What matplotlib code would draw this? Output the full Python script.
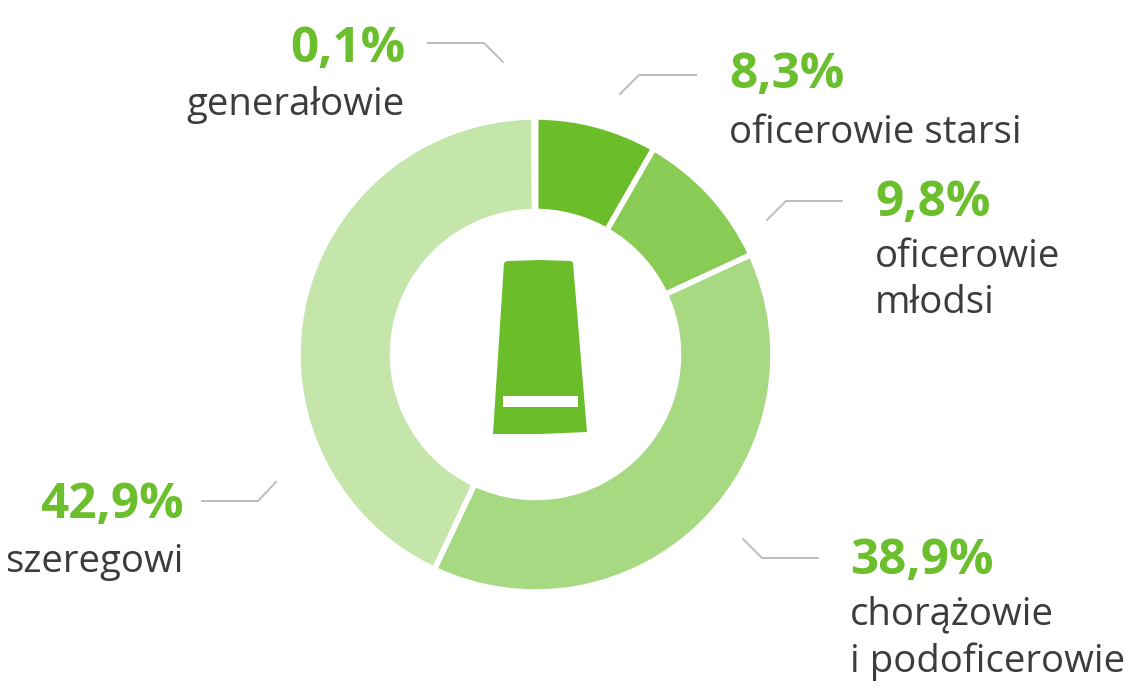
import matplotlib
matplotlib.use('Agg')
import matplotlib.pyplot as plt
from matplotlib.patches import Polygon, Rectangle

# kolejnosc od godziny 12 zgodnie z ruchem wskazowek
kategorie = ['oficerowie starsi', 'oficerowie\nmłodsi', 'chorążowie\ni podoficerowie', 'szeregowi', 'generałowie']
wartosci = [8.3, 9.8, 38.9, 42.9, 0.1]
procenty = ['8,3%', '9,8%', '38,9%', '42,9%', '0,1%']
kolory = ['#6bbd29', '#89cb55', '#a7d882', '#c5e6aa', '#6bbd29']

# pozycje opisow w pikselach: x, y procentu, y nazwy, wyrownanie
pozycje = [(729, 76, 133, 'left'), (875, 204, 280, 'left'), (850, 561, 638, 'left'),
           (184, 506, 562, 'right'), (405, 50, 105, 'right')]
linie = [[(620, 94), (639, 75), (696, 75)],
         [(767, 220), (786, 201), (842, 201)],
         [(743, 539), (762, 558), (818, 558)],
         [(202, 501), (258, 501), (276, 482)],
         [(428, 43), (484, 43), (503, 62)]]

W, H = 1127, 690
plt.rcParams['font.family'] = ['Open Sans', 'DejaVu Sans']
fig = plt.figure(figsize=(W / 100, H / 100), dpi=100)
ax = fig.add_axes([0, 0, 1, 1])

ax.pie(wartosci, colors=kolory, startangle=90, counterclock=False,
       center=(535.5, H - 354.5), radius=237.5, frame=True,
       wedgeprops=dict(width=94.5, edgecolor='white', linewidth=4))
ax.set_xlim(0, W)
ax.set_ylim(0, H)
ax.set_aspect('auto')
ax.axis('off')

for pts in linie:
    ax.plot([p[0] for p in pts], [H - p[1] for p in pts], color='#bdbdbd', lw=1.4)

for (x, yp, yn, ha), proc, nazwa in zip(pozycje, procenty, kategorie):
    ax.text(x, H - yp, proc, color='#6bbf2c', fontsize=35.6, fontweight='bold', ha=ha, va='center')
    ax.text(x, H - yn, nazwa, color='#3c3c3b', fontsize=27.6, ha=ha, va='center', linespacing=1.3)

# naramiennik w srodku
naramiennik = [(504, 263), (507, 261), (540, 260), (571, 261), (573, 263),
               (587, 432), (540, 434), (493, 434)]
ax.add_patch(Polygon([(x, H - y) for x, y in naramiennik], closed=True, color='#6bbd29', lw=0))
ax.add_patch(Rectangle((503, H - 407), 75, 11, color='white', lw=0))

fig.savefig('out.png', dpi=100)
